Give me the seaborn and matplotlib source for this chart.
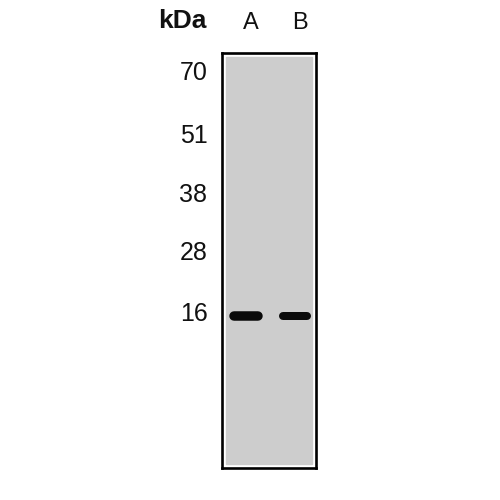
import matplotlib
matplotlib.use("Agg")
import matplotlib.pyplot as plt
import matplotlib.transforms as mtransforms
from matplotlib.patches import Rectangle
import seaborn as sns
import pandas as pd

# ladder (kDa) and relative migration (0 = top of membrane, 100 = bottom)
marker_kda = ["70", "51", "38", "28", "16"]
marker_migration = [4.1, 19.3, 33.5, 47.5, 62.2]

# sample lanes and detected bands
lanes = ["A", "B"]
band_migration = [63.4, 63.4]
band_width = [9.5, 8.0]

sns.set_theme(style="white")
plt.rcParams["font.family"] = ["Liberation Sans", "DejaVu Sans"]

fig = plt.figure(figsize=(5, 5), dpi=100)
ax = fig.add_axes([0.444, 0.064, 0.188, 0.83])

# membrane
ax.set_facecolor("white")
ax.add_patch(Rectangle((0.04, 0.01), 0.92, 0.98, transform=ax.transAxes,
                       color="#cdcdcd", zorder=0))

df = pd.DataFrame({"lane": range(len(lanes)), "y": band_migration, "w": band_width})
for _, row in df.iterrows():
    ax.plot([row.lane - 0.24, row.lane + 0.24], [row.y, row.y], color="#0a0a0a",
            lw=row.w * 0.72, solid_capstyle="round", zorder=2)

ax.set_xlim(-0.49, 1.43)
ax.set_ylim(100, 0)

ax.set_yticks(marker_migration, marker_kda)
ax.tick_params(axis="y", length=0, pad=10.5, labelsize=18, labelcolor="#111111")

ax.xaxis.tick_top()
ax.set_xticks(range(len(lanes)), lanes)
ax.tick_params(axis="x", length=0, pad=14, labelsize=17, labelcolor="#111111")
shift = mtransforms.ScaledTranslation(5 / 100, 0, fig.dpi_scale_trans)
for lab in ax.get_xticklabels():
    lab.set_transform(lab.get_transform() + shift)

for sp in ax.spines.values():
    sp.set_visible(True)
    sp.set_color("black")
    sp.set_linewidth(1.9)

fig.text(207 / 500, 1 - 21 / 500, "kDa", ha="right", va="center",
         fontsize=19, fontweight="bold", color="#111111")

fig.savefig("out.png", dpi=100)
